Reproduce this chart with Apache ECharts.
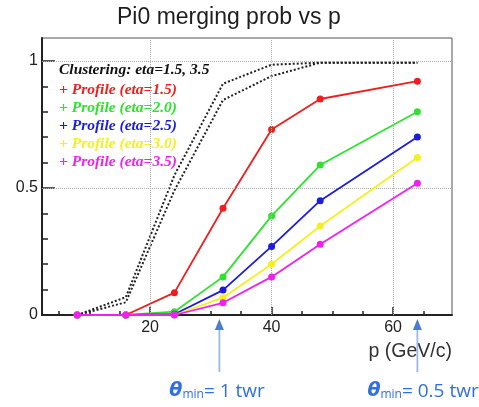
<!DOCTYPE html>
<html>
<head>
<meta charset="utf-8">
<script src="https://cdn.jsdelivr.net/npm/echarts@6/dist/echarts.min.js"></script>
<style>
  html, body { margin: 0; padding: 0; background: #fff; }
  #chart { width: 479px; height: 407px; }
</style>
</head>
<body>
<div id="chart"></div>
<script>
// ---- data ----
const p = [8, 16, 24, 32, 40, 48, 64];
const clusteringEta15 = [0, 0.07, 0.55, 0.91, 0.985, 0.993, 0.993];
const clusteringEta35 = [0, 0.05, 0.49, 0.846, 0.94, 0.993, 0.993];
const profileEta15 = [0, 0, 0.088, 0.42, 0.73, 0.85, 0.92];
const profileEta20 = [0, 0, 0.013, 0.15, 0.39, 0.59, 0.80];
const profileEta25 = [0, 0, 0.003, 0.098, 0.27, 0.45, 0.70];
const profileEta30 = [0, 0, 0, 0.068, 0.20, 0.35, 0.62];
const profileEta35 = [0, 0, 0, 0.048, 0.15, 0.278, 0.518];
const profileNames = ['Profile (eta=1.5)', 'Profile (eta=2.0)', 'Profile (eta=2.5)', 'Profile (eta=3.0)', 'Profile (eta=3.5)'];
const xMajorTicks = [20, 40, 60];
const xMinorTicks = [5, 10, 15, 25, 30, 35, 45, 50, 55, 65];
const yMajorTicks = [0, 0.5, 1];
const yMinorTicks = [0.1, 0.2, 0.3, 0.4, 0.6, 0.7, 0.8, 0.9];
const gridX = [20, 40, 60];
const gridY = [0.5, 1];
const arrowX = [31.4, 64];
const arrowLabels = ['= 1 twr', '= 0.5 twr'];

const colors = ['#f01e1e', '#2ee22e', '#1c1ce0', '#f4f020', '#f020f0'];
const profiles = [profileEta15, profileEta20, profileEta25, profileEta30, profileEta35];
const pairs = arr => p.map((x, i) => [x, arr[i]]);

const chart = echarts.init(document.getElementById('chart'), null, { renderer: 'canvas' });

const X_MIN = 2.2, X_MAX = 69.7, Y_MIN = 0, Y_MAX = 1.09;

const series = [
  {
    name: 'grid', type: 'line', data: [], z: 1, silent: true,
    markLine: {
      silent: true, symbol: ['none', 'none'], label: { show: false },
      lineStyle: { type: 'dotted', color: '#b0b0b0', width: 1 },
      emphasis: { disabled: true },
      data: gridX.map(v => ({ xAxis: v })).concat(gridY.map(v => ({ yAxis: v })))
    }
  },
  {
    name: 'Clustering eta=1.5', type: 'line', data: pairs(clusteringEta15), symbol: 'none',
    lineStyle: { color: '#222', width: 2, type: [2, 2] }, z: 2
  },
  {
    name: 'Clustering eta=3.5', type: 'line', data: pairs(clusteringEta35), symbol: 'none',
    lineStyle: { color: '#222', width: 2, type: [2, 2] }, z: 2
  }
];
profiles.forEach((arr, i) => {
  series.push({
    name: profileNames[i], type: 'line', data: pairs(arr),
    symbol: 'circle', symbolSize: 7, showSymbol: true,
    itemStyle: { color: colors[i] },
    lineStyle: { color: colors[i], width: 1.8 },
    z: 3 + i
  });
});

const axisFont = { fontFamily: 'Liberation Sans', fontSize: 16, color: '#222' };

chart.setOption({
  animation: false,
  backgroundColor: '#fff',
  title: {
    text: 'Pi0 merging prob vs p', left: 117, top: 6, padding: 0,
    textStyle: { fontFamily: 'Liberation Sans', fontSize: 23, fontWeight: 'normal', color: '#1e1e1e' }
  },
  grid: { left: 42, right: 27, top: 38, bottom: 92, show: true, borderColor: '#555', borderWidth: 1, backgroundColor: '#fff' },
  legend: {
    orient: 'vertical', left: 54, top: 81, padding: 0, itemGap: 0,
    itemWidth: 0, itemHeight: 18, icon: 'none', selectedMode: false,
    formatter: name => '+ ' + name,
    textStyle: { fontFamily: 'Liberation Serif', fontStyle: 'italic', fontWeight: 'bold', fontSize: 15.5, lineHeight: 18 },
    data: profileNames.map((n, i) => ({ name: n, textStyle: { color: colors[i] } }))
  },
  xAxis: [
    {
      type: 'value', min: X_MIN, max: X_MAX, position: 'bottom',
      axisLine: { show: true, onZero: false, lineStyle: { color: '#222', width: 2 } },
      axisTick: { show: true, inside: true, length: 8, customValues: xMajorTicks, lineStyle: { color: '#222', width: 1.5 } },
      axisLabel: Object.assign({ customValues: xMajorTicks, margin: 5 }, axisFont),
      splitLine: { show: false }
    },
    {
      type: 'value', min: X_MIN, max: X_MAX, position: 'bottom',
      axisLine: { show: false },
      axisTick: { show: true, inside: true, length: 4, customValues: xMinorTicks, lineStyle: { color: '#222', width: 1.5 } },
      axisLabel: { show: false },
      splitLine: { show: false }
    }
  ],
  yAxis: [
    {
      type: 'value', min: Y_MIN, max: Y_MAX, position: 'left',
      axisLine: { show: true, onZero: false, lineStyle: { color: '#222', width: 2 } },
      axisTick: { show: true, inside: true, length: 13, customValues: yMajorTicks, lineStyle: { color: '#222', width: 1.5 } },
      axisLabel: Object.assign({ customValues: yMajorTicks, margin: 4 }, axisFont),
      splitLine: { show: false }
    },
    {
      type: 'value', min: Y_MIN, max: Y_MAX, position: 'left',
      axisLine: { show: false },
      axisTick: { show: true, inside: true, length: 6, customValues: yMinorTicks, lineStyle: { color: '#222', width: 1.5 } },
      axisLabel: { show: false },
      splitLine: { show: false }
    }
  ],
  series: series
});

// annotations positioned through the x scale
const graphics = [
  {
    type: 'text', silent: true,
    style: {
      text: 'Clustering: eta=1.5, 3.5', x: 59, y: 70, verticalAlign: 'middle', align: 'left',
      font: 'italic bold 15.5px "Liberation Serif"', fill: '#111'
    }
  },
  {
    type: 'text', silent: true,
    style: {
      text: 'p (GeV/c)', x: 452, y: 352, align: 'right', verticalAlign: 'middle',
      font: '19.5px "Liberation Sans"', fill: '#333'
    }
  }
];
arrowX.forEach((xv, i) => {
  const px = chart.convertToPixel({ xAxisIndex: 0 }, xv);
  graphics.push({
    type: 'line', silent: true, z: 10,
    shape: { x1: px, y1: 328, x2: px, y2: 372 },
    style: { stroke: '#9db8e4', lineWidth: 1.8 }
  });
  graphics.push({
    type: 'polygon', silent: true, z: 11,
    shape: { points: [[px, 319], [px - 4.5, 330], [px + 4.5, 330]] },
    style: { fill: '#4a7cd0' }
  });
  graphics.push({
    type: 'text', silent: true, z: 11,
    style: {
      text: '{t|θ}{m|min}{e|' + arrowLabels[i] + '}',
      x: px - 50, y: 401, align: 'left', verticalAlign: 'bottom',
      rich: {
        t: { fontFamily: 'DejaVu Sans', fontStyle: 'italic', fontWeight: 'bold', fontSize: 19, lineHeight: 24, verticalAlign: 'bottom', fill: '#2f6fdf' },
        m: { fontFamily: 'Open Sans', fontSize: 12, lineHeight: 13, verticalAlign: 'bottom', fill: '#2f6fdf' },
        e: { fontFamily: 'Open Sans', fontSize: 19, lineHeight: 24, verticalAlign: 'bottom', fill: '#2f6fdf' }
      }
    }
  });
});
chart.setOption({ graphic: graphics });
</script>
</body>
</html>
